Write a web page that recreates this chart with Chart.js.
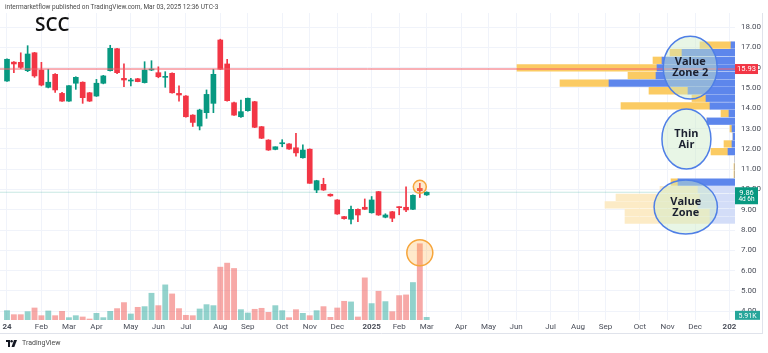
<!DOCTYPE html>
<html><head><meta charset="utf-8">
<script src="https://cdn.jsdelivr.net/npm/chart.js@4.4.1/dist/chart.umd.min.js"></script>
<style>
html,body{margin:0;padding:0;background:#fff;}
#wrap{position:relative;width:768px;height:353px;overflow:hidden;background:#fff;}
#c{position:absolute;left:0;top:0;}
.hdr{position:absolute;left:5px;top:3px;font:6.5px/8px Roboto,sans-serif;color:#4a4a4a;white-space:nowrap;z-index:2;}
.ttl{position:absolute;left:35px;top:15px;font:600 19px/19px 'Open Sans',sans-serif;color:#111;z-index:2;}
.ftr{position:absolute;left:6px;top:339px;height:9px;display:flex;align-items:center;gap:5px;font:7px/9px Roboto,sans-serif;color:#4a4a4a;z-index:2;}
</style></head>
<body>
<div id="wrap">
<canvas id="c" width="768" height="353"></canvas>
<div class="hdr">intermarketflow published on TradingView.com, Mar 03, 2025 12:36 UTC-3</div>
<div class="ttl">SCC</div>
<div class="ftr"><svg width="11" height="7" viewBox="0 0 11 7"><path d="M0 0h4v7H2V2H0z" fill="#131722"/><circle cx="5.6" cy="1.3" r="1.2" fill="#131722"/><path d="M8 0h3L8.3 7H5.5z" fill="#131722"/></svg><span>TradingView</span></div>
</div>
<script>
// ---- Data (weekly bars from week of Jan 1 2024) ----
const opens  = [15.34,16.27,16.26,15.85,16.73,15.88,15.03,15.67,14.73,14.35,15.23,15.28,14.76,14.60,15.23,15.85,16.93,15.47,15.34,15.45,15.26,15.88,15.75,15.52,15.72,14.73,14.60,13.66,13.12,13.78,14.24,17.36,16.18,14.27,13.58,13.88,14.32,13.09,12.43,11.97,12.25,12.24,12.05,11.56,11.98,9.97,10.25,9.76,9.48,8.66,8.53,9.02,9.12,8.85,9.89,8.63,8.90,9.12,9.12,9.02,10.05,9.73];
const highs  = [16.43,16.30,16.73,17.08,16.75,16.26,15.92,15.70,14.78,15.12,15.55,15.30,14.78,15.42,15.62,17.10,16.95,16.18,15.47,15.47,16.29,16.34,16.04,15.80,15.74,15.10,14.62,13.68,13.95,14.90,15.92,17.40,16.41,14.30,14.40,14.50,14.34,13.10,12.45,12.10,12.45,12.26,12.76,12.20,12.00,10.45,10.55,9.78,9.50,8.68,9.18,9.04,9.53,9.65,9.90,8.80,8.92,9.15,10.13,9.73,10.30,9.88];
const lows   = [15.32,15.75,15.95,15.80,15.52,15.10,15.00,14.78,14.33,14.33,14.93,14.24,14.33,14.58,15.20,15.83,15.70,15.06,15.10,15.30,15.24,15.85,15.50,15.03,14.74,14.35,13.56,13.10,12.93,13.50,13.78,15.90,14.35,13.64,13.55,13.85,13.04,12.50,11.92,11.95,12.10,11.97,11.64,11.54,10.30,9.84,9.95,9.66,8.77,8.54,8.30,8.41,9.00,8.83,8.72,8.60,8.41,8.75,8.90,9.00,9.60,9.70];
const closes = [16.41,16.18,16.01,16.67,15.59,15.14,15.28,14.90,14.35,15.11,15.52,14.52,14.35,15.23,15.59,16.95,15.75,15.39,15.39,15.31,15.88,15.90,15.55,15.57,14.76,14.65,13.58,13.30,13.91,14.68,15.67,15.92,14.37,13.66,13.83,14.49,13.06,12.52,11.94,12.10,12.28,11.99,11.80,11.94,10.30,10.43,9.97,9.68,8.79,8.56,9.02,8.74,9.02,9.48,8.74,8.74,8.58,9.10,8.99,9.71,9.94,9.86];
const volumesK = [20.7,11.8,11.8,18.5,26.6,9.6,20.0,9.6,19.2,5.2,9.6,6.7,2.2,14.8,5.2,19.2,25.2,38.5,13.3,28.1,29.6,59.2,31.8,77.7,57.7,25.2,10.4,9.6,24.4,34.0,31.8,116.9,125.8,114.0,22.9,15.5,23.7,25.9,17.0,31.8,20.7,5.2,22.9,14.8,9.6,20.7,29.6,5.9,26.6,41.4,40.0,6.7,93.2,36.3,63.6,40.7,18.5,54.0,55.5,82.9,168.7,5.91];
// Axis tick positions (week index) and labels
const timeTickIdx = [0,5,9,13,18,22,26,31,35,40,44,48,53,57,61,66,70,74,79,83,87,92,96,100,105];
const timeTickText = ['24','Feb','Mar','Apr','May','Jun','Jul','Aug','Sep','Oct','Nov','Dec','2025','Feb','Mar','Apr','May','Jun','Jul','Aug','Sep','Oct','Nov','Dec','202'];
const boldTicks = ['24','2025','202'];
const priceTicks = [4,5,6,7,8,9,10,11,12,13,14,15,16,17,18];
// Volume profile rows (price centre, up volume, down volume)
const vpPrice = [17.11,16.74,16.36,15.99,15.61,15.24,14.86,14.49,14.11,13.74,13.36,12.99,12.61,12.24,11.86,11.49,11.11,10.74,10.36,9.99,9.61,9.24,8.86,8.49];
const vpUp    = [4,53,73,78,79,126,47,29,25,6,28,3,2,3,7,0,0,0,57,37,35,37,25,25];
const vpDown  = [31,12,9,140,28,49,39,14,89,8,0,2,0,8,17,0,1,1,7,38,84,93,85,85];
// Levels
const levelPrice = 15.93;
const lastPrice = 9.86;
const lastVolumeK = 5.91;
const countdown = '4d 6h';
// Annotations
const zones = [
  {lines:['Value','Zone 2'], x:99.3, p:16.0, rx:3.92, ry:1.55},
  {lines:['Thin','Air'], x:98.75, p:12.48, rx:3.56, ry:1.48},
  {lines:['Value','Zone'], x:98.65, p:9.13, rx:4.6, ry:1.33}
];

// ---- Chart ----
const GREEN = '#089981', RED = '#f23645';
const isUp = i => closes[i] >= opens[i];
const idx = opens.map((_, i) => i);
const FONT = 'Roboto, sans-serif';

const overlay = {
  id: 'overlay',
  afterDatasetsDraw(chart) {
    const {ctx, scales:{x, y, yV}} = chart;
    ctx.save();
    zones.forEach(z => {
      const cx = x.getPixelForValue(z.x), cy = y.getPixelForValue(z.p);
      const rx = Math.abs(x.getPixelForValue(z.x + z.rx) - cx);
      const ry = Math.abs(y.getPixelForValue(z.p + z.ry) - cy);
      ctx.beginPath();
      ctx.ellipse(cx, cy, rx, ry, 0, 0, Math.PI * 2);
      ctx.fillStyle = 'rgba(205,235,200,0.45)';
      ctx.fill();
      ctx.lineWidth = 1.5;
      ctx.strokeStyle = '#4f7fe6';
      ctx.stroke();
      ctx.fillStyle = '#1b2030';
      ctx.font = 'bold 11px "Open Sans", sans-serif';
      ctx.textAlign = 'center';
      ctx.textBaseline = 'middle';
      ctx.fillText(z.lines[0], cx, cy - 5.7);
      ctx.fillText(z.lines[1], cx, cy + 5.7);
    });
    const hi = 60;
    const c1x = x.getPixelForValue(hi), c1y = y.getPixelForValue((opens[hi] + highs[hi]) / 2 - 0.05);
    const c2y = yV.getPixelForValue(volumesK[hi]) + 9;
    [[c1x, c1y, 6.5], [c1x, c2y, 13]].forEach(([cx, cy, r]) => {
      ctx.beginPath();
      ctx.arc(cx, cy, r, 0, Math.PI * 2);
      ctx.fillStyle = 'rgba(255,176,70,0.28)';
      ctx.fill();
      ctx.lineWidth = 1.5;
      ctx.strokeStyle = '#f6a53a';
      ctx.stroke();
    });
    ctx.restore();
  },
  afterDraw(chart) {
    const {ctx, chartArea, scales:{y, yV}} = chart;
    ctx.save();
    ctx.strokeStyle = '#e0e3eb';
    ctx.lineWidth = 1;
    ctx.beginPath();
    ctx.moveTo(0, 333.5); ctx.lineTo(763, 333.5);
    ctx.moveTo(762.5, chartArea.top); ctx.lineTo(762.5, 333.5);
    ctx.stroke();
    const bx = chartArea.right;
    ctx.textAlign = 'center';
    ctx.textBaseline = 'middle';
    let py = y.getPixelForValue(levelPrice);
    ctx.fillStyle = RED;
    ctx.fillRect(bx, py - 5, 23, 10);
    ctx.fillStyle = '#fff';
    ctx.font = '7.5px ' + FONT;
    ctx.fillText(levelPrice.toFixed(2), bx + 11.5, py + 0.5);
    py = y.getPixelForValue(lastPrice);
    ctx.fillStyle = GREEN;
    ctx.fillRect(bx, py - 5, 23, 17);
    ctx.fillStyle = '#fff';
    ctx.fillText(lastPrice.toFixed(2), bx + 11.5, py + 0.5);
    ctx.font = '6.5px ' + FONT;
    ctx.fillText(countdown, bx + 11.5, py + 7.5);
    py = yV.getPixelForValue(lastVolumeK) - 2;
    ctx.fillStyle = '#26a69a';
    ctx.fillRect(bx, py - 4.5, 25, 9);
    ctx.fillStyle = '#fff';
    ctx.font = '7px ' + FONT;
    ctx.fillText(lastVolumeK.toFixed(2) + 'K', bx + 12.5, py + 0.5);
    ctx.restore();
  }
};

const vpColor = (k, bright, pale) => vpPrice[k] < 10.2 ? pale : bright;

new Chart(document.getElementById('c'), {
  data: {
    datasets: [
      {type:'line', xAxisID:'x', yAxisID:'y', data:[{x:-5,y:lastPrice},{x:120,y:lastPrice}], borderColor:'rgba(8,153,129,0.22)', borderWidth:1, pointRadius:0, order:10},
      {type:'bar', xAxisID:'x', yAxisID:'yV', data: volumesK.map((v,i)=>({x:i,y:v})), backgroundColor: c => isUp(c.dataIndex) ? 'rgba(38,166,154,0.5)' : 'rgba(239,83,80,0.5)', barThickness:5.2, grouped:false, order:9},
      {type:'bar', indexAxis:'y', xAxisID:'xVP', yAxisID:'y', data: vpPrice.map((p,k)=>({y:p, x:[0, vpUp[k]]})), backgroundColor: c => vpColor(c.dataIndex, '#5d86ec', '#d3ddf8'), barThickness:6.6, grouped:false, order:8},
      {type:'bar', indexAxis:'y', xAxisID:'xVP', yAxisID:'y', data: vpPrice.map((p,k)=>({y:p, x:[vpUp[k], vpUp[k] + vpDown[k]]})), backgroundColor: c => vpColor(c.dataIndex, '#fbcb63', '#fcebc6'), barThickness:6.6, grouped:false, order:8},
      {type:'bar', xAxisID:'x', yAxisID:'y', data: idx.map(i=>({x:i, y:[lows[i], highs[i]]})), backgroundColor: c => isUp(c.dataIndex) ? GREEN : RED, barThickness:1, grouped:false, order:5},
      {type:'bar', xAxisID:'x', yAxisID:'y', data: idx.map(i=>({x:i, y:[opens[i], closes[i]]})), backgroundColor: c => isUp(c.dataIndex) ? GREEN : RED, barThickness:5, minBarLength:1, grouped:false, order:4},
      {type:'line', xAxisID:'x', yAxisID:'y', data:[{x:-5,y:levelPrice},{x:120,y:levelPrice}], borderColor:'#f4606b', borderWidth:1, pointRadius:0, order:3}
    ]
  },
  options: {
    responsive:false, animation:false, events:[],
    layout:{padding:{top:13, bottom:19, left:0, right:0}},
    plugins:{legend:{display:false}, tooltip:{enabled:false}},
    scales:{
      x:{type:'linear', position:'bottom', min:-1.017, max:105.81, offset:false,
        grid:{color:'#f0f3fa', drawTicks:false, offset:false}, border:{display:false},
        afterBuildTicks: s => { s.ticks = timeTickIdx.map(v => ({value:v})); },
        afterFit: s => { s.height = 14; },
        ticks:{autoSkip:false, maxRotation:0, padding:2, color:'#4a4e59',
          font: c => ({size:8, family:FONT, weight: boldTicks.includes(timeTickText[c.index]) ? 'bold' : 'normal'}),
          callback: (v, i) => timeTickText[i]}},
      y:{type:'linear', position:'right', min:3.567, max:18.69, offset:false,
        grid:{color:'#f0f3fa', drawTicks:false, offset:false}, border:{display:false},
        afterBuildTicks: s => { s.ticks = priceTicks.map(v => ({value:v})); },
        afterFit: s => { s.width = 33; },
        ticks:{padding:6, color:'#4a4e59', font:{size:8, family:FONT}, callback: v => Number(v).toFixed(2)}},
      yV:{type:'linear', display:false, min:0, max:679, offset:false},
      xVP:{type:'linear', axis:'x', display:false, min:0, max:735, reverse:true, offset:false}
    }
  },
  plugins:[overlay]
});
</script>
</body></html>
